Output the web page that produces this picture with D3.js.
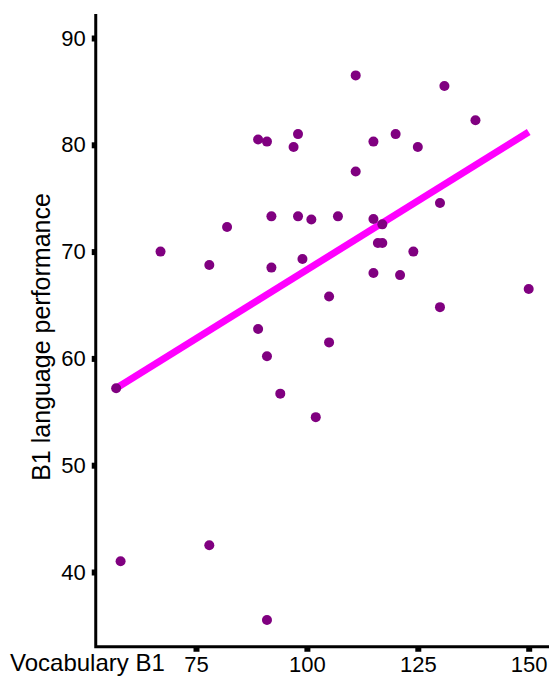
<!DOCTYPE html>
<html>
<head>
<meta charset="utf-8">
<script src="https://cdn.jsdelivr.net/npm/d3@7"></script>
<style>
  html, body { margin: 0; padding: 0; background: #fff; }
  svg { display: block; }
  text { font-family: "Liberation Sans", Arial, Helvetica, sans-serif; fill: #000; }
</style>
</head>
<body>
<svg id="chart" width="549" height="681"></svg>
<script>
// Vocabulary B1 scores (x) and B1 language performance (y)
const vocabulary = [57, 58, 67, 78, 78, 82, 89, 91, 98, 97,
                    92, 98, 101, 92, 99, 111, 131, 115, 120, 125,
                    138, 111, 107, 115, 117, 116, 117, 130, 124, 115,
                    121, 105, 150, 130, 105, 89, 91, 94, 102, 91];
const performance = [57.2, 41.0, 70.0, 68.75, 42.5, 72.3, 80.5, 80.3, 81.0, 79.8,
                     73.3, 73.3, 73.0, 68.5, 69.3, 86.5, 85.5, 80.3, 81.0, 79.8,
                     82.3, 77.5, 73.3, 73.05, 72.55, 70.8, 70.8, 74.55, 70.0, 68.0,
                     67.8, 65.8, 66.5, 64.8, 61.5, 62.75, 60.2, 56.7, 54.5, 35.5];
// fitted line endpoints
const fitX = [57, 150];
const fitY = [57.2, 81.2];
// ticks
const xTicks = [75, 100, 125, 150];
const yTicks = [40, 50, 60, 70, 80, 90];
const xExtent = [52.4, 160];
const yExtent = [33.0, 92.25];
const xTitle = "Vocabulary B1";
const yTitle = "B1 language performance";

const svg = d3.select("#chart");
const x = d3.scaleLinear().domain([75, 150]).range([196, 528.7]);
const y = d3.scaleLinear().domain([40, 90]).range([572, 38]);

// axes
const xAxis = d3.axisBottom(x).tickValues(xTicks).tickSize(5).tickPadding(5).tickFormat(d3.format("d"));
const yAxis = d3.axisLeft(y).tickValues(yTicks).tickSize(4).tickPadding(6).tickFormat(d3.format("d"));

const gx = svg.append("g").attr("transform", `translate(0,${y(yExtent[0])})`).call(xAxis);
gx.select(".domain").remove();
gx.selectAll(".tick line").attr("stroke", "#000").attr("stroke-width", 6);
gx.selectAll(".tick text").attr("font-size", 22).attr("font-family", "Liberation Sans, Arial, sans-serif");

const gy = svg.append("g").attr("transform", `translate(${x(xExtent[0])},0)`).call(yAxis);
gy.select(".domain").remove();
gy.selectAll(".tick line").attr("stroke", "#000").attr("stroke-width", 6);
gy.selectAll(".tick text").attr("font-size", 22).attr("font-family", "Liberation Sans, Arial, sans-serif");

// axis lines
svg.append("path")
  .attr("d", `M${x(xExtent[0])},${y(yExtent[1])}V${y(yExtent[0])}H${x(xExtent[1])}`)
  .attr("fill", "none").attr("stroke", "#000").attr("stroke-width", 3);

// fit line
svg.append("line")
  .attr("x1", x(fitX[0])).attr("y1", y(fitY[0]))
  .attr("x2", x(fitX[1])).attr("y2", y(fitY[1]))
  .attr("stroke", "#FF00FF").attr("stroke-width", 7);

// points
svg.append("g").selectAll("circle")
  .data(vocabulary.map((v, i) => [v, performance[i]]))
  .join("circle")
  .attr("cx", d => x(d[0])).attr("cy", d => y(d[1]))
  .attr("r", 5).attr("fill", "#800080");

// titles
svg.append("text")
  .attr("x", 10).attr("y", 671)
  .attr("font-size", 24)
  .text(xTitle);

svg.append("text")
  .attr("transform", `translate(50,337) rotate(-90)`)
  .attr("text-anchor", "middle")
  .attr("font-size", 25)
  .text(yTitle);
</script>
</body>
</html>
